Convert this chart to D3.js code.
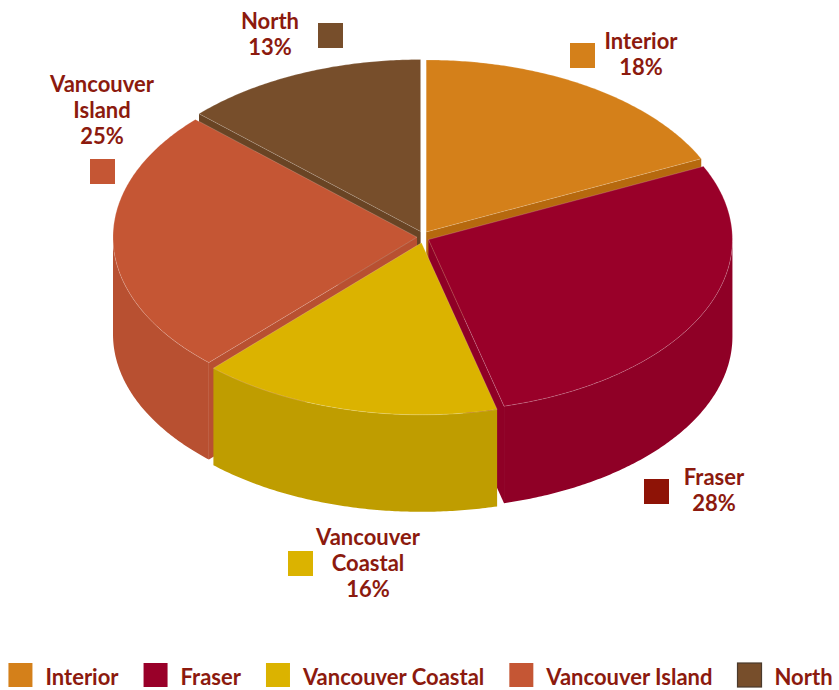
<!DOCTYPE html>
<html><head><meta charset="utf-8">
<script src="https://cdn.jsdelivr.net/npm/d3@7"></script>
<style>html,body{margin:0;padding:0;background:#fff;} svg{display:block;}</style>
</head><body>
<svg id="chart" width="839" height="690"></svg>
<script>
// ---- data ----
const categories = ["Interior", "Fraser", "Vancouver Coastal", "Vancouver Island", "North"];
const values = [18, 28, 16, 25, 13];
const percentLabels = ["18%", "28%", "16%", "25%", "13%"];
const labelLines = [["Interior"], ["Fraser"], ["Vancouver", "Coastal"], ["Vancouver", "Island"], ["North"]];

// ---- styles ----
const topColors  = ["#D4801A", "#990029", "#DBB300", "#C55634", "#774E2B"];
const sideColors = ["#B6690E", "#8F0026", "#BF9D00", "#B85031", "#694424"];
const keyColors  = ["#D4801A", "#8E1306", "#DBB300", "#C55634", "#774E2B"];
const textColor = "#8C1A0E";
const fontFamily = "Lato, 'Open Sans', sans-serif";
const fontSize = 22;

// ---- layout ----
const cx = 423, cy = 237, rx = 304, ry = 172, depth = 97, explode = 6;
// label layout: [text center x, first baseline y, key square x, key square y]
const labelLayout = [
  [641, 49, 570, 43],
  [714, 485, 644, 479],
  [368, 545, 288, 551],
  [102, 92, 90, 159],
  [270, 29, 318, 23]
];
const lineHeight = 26, keySize = 25;

const svg = d3.select("#chart");
const data = categories.map((c, i) => ({name: c, value: values[i], i}));
const pie = d3.pie().sort(null).value(d => d.value).startAngle(0).endAngle(2 * Math.PI);
const arcs = pie(data);
const colorTop = d3.scaleOrdinal().domain(categories).range(topColors);
const colorSide = d3.scaleOrdinal().domain(categories).range(sideColors);

function pt(a, ox, oy, z) { return [cx + ox + rx * Math.sin(a), cy + oy - ry * Math.cos(a) + z]; }
function arcPts(a0, a1, ox, oy, z) {
  const n = Math.max(2, Math.ceil(Math.abs(a1 - a0) / 0.01));
  const out = [];
  for (let k = 0; k <= n; k++) out.push(pt(a0 + (a1 - a0) * k / n, ox, oy, z));
  return out;
}
const poly = pts => "M" + pts.map(p => p[0].toFixed(2) + "," + p[1].toFixed(2)).join("L") + "Z";

const slices = arcs.map(a => {
  const mid = (a.startAngle + a.endAngle) / 2;
  return {a, mid, ox: explode * Math.sin(mid), oy: -explode * Math.cos(mid)};
}).sort((p, q) => (-Math.cos(p.mid)) - (-Math.cos(q.mid)));

const pieG = svg.append("g");
slices.forEach(s => {
  const {a, ox, oy} = s;
  const a0 = a.startAngle, a1 = a.endAngle;
  const g = pieG.append("g");
  const c0 = [cx + ox, cy + oy];
  const c1 = [cx + ox, cy + oy + depth];
  const side = colorSide(a.data.name), top = colorTop(a.data.name);
  // radial faces
  if (Math.sin(a0) < -1e-6) {
    const p = pt(a0, ox, oy, 0), pb = pt(a0, ox, oy, depth);
    g.append("path").attr("d", poly([c0, p, pb, c1])).attr("fill", side);
  }
  if (Math.sin(a1) > 1e-6) {
    const p = pt(a1, ox, oy, 0), pb = pt(a1, ox, oy, depth);
    g.append("path").attr("d", poly([c0, p, pb, c1])).attr("fill", side);
  }
  // outer wall (front half)
  const w0 = Math.max(a0, Math.PI / 2), w1 = Math.min(a1, 3 * Math.PI / 2);
  if (w1 > w0) {
    const topArc = arcPts(w0, w1, ox, oy, 0);
    const botArc = arcPts(w1, w0, ox, oy, depth);
    g.append("path").attr("d", poly(topArc.concat(botArc))).attr("fill", side);
  }
  // top face
  const tp = [c0].concat(arcPts(a0, a1, ox, oy, 0));
  g.append("path").attr("d", poly(tp)).attr("fill", top)
    .attr("stroke", "rgba(255,255,255,0.28)").attr("stroke-width", 0.7);
});

// ---- data labels ----
const lab = svg.append("g").attr("font-family", fontFamily).attr("font-weight", 700)
  .attr("font-size", fontSize).attr("fill", textColor).attr("text-anchor", "middle");
arcs.forEach((a, i) => {
  const [tx, ty, kx, ky] = labelLayout[i];
  const lines = labelLines[i].concat([percentLabels[i]]);
  lines.forEach((ln, j) => {
    lab.append("text").attr("x", tx).attr("y", ty + j * lineHeight).text(ln);
  });
  svg.append("rect").attr("x", kx).attr("y", ky).attr("width", keySize).attr("height", keySize)
    .attr("fill", keyColors[i]);
});

// ---- legend ----
const leg = svg.append("g");
let lx = 0;
categories.forEach((c, i) => {
  const it = leg.append("g");
  it.append("rect").attr("x", 0).attr("y", 663).attr("width", 24).attr("height", 24)
    .attr("fill", colorTop(c))
    .attr("stroke", i === 4 ? "#4a3a2c" : "none").attr("stroke-width", i === 4 ? 1.2 : 0);
  const t = it.append("text").attr("x", 37).attr("y", 685)
    .attr("font-family", fontFamily).attr("font-weight", 700).attr("font-size", fontSize)
    .attr("fill", textColor).text(c);
  const w = t.node().getComputedTextLength();
  it.attr("transform", `translate(${lx},0)`);
  lx += 37 + w + 25;
});
const total = lx - 25;
leg.attr("transform", `translate(${(839 - total) / 2 + 1},0)`);
</script>
</body></html>
